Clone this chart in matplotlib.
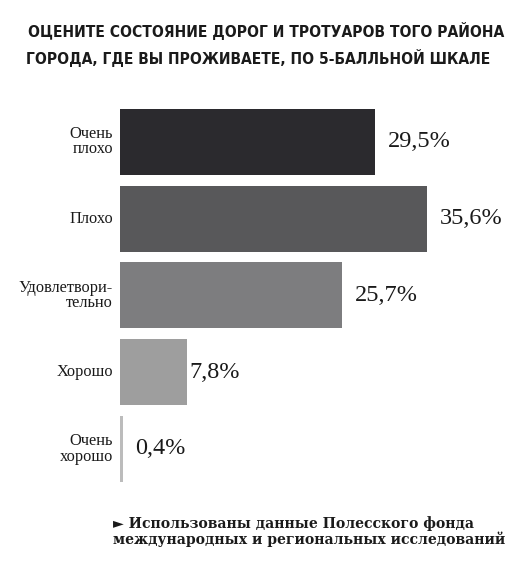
import matplotlib
matplotlib.use('Agg')
import matplotlib.pyplot as plt
from matplotlib import font_manager

#%% data
categories = ['Очень\nплохо', 'Плохо', 'Удовлетвори-\nтельно', 'Хорошо', 'Очень\nхорошо']
values = [29.5, 35.6, 25.7, 7.8, 0.4]
value_labels = ['29,5%', '35,6%', '25,7%', '7,8%', '0,4%']
title_lines = ['ОЦЕНИТЕ СОСТОЯНИЕ ДОРОГ И ТРОТУАРОВ ТОГО РАЙОНА',
               'ГОРОДА, ГДЕ ВЫ ПРОЖИВАЕТЕ, ПО 5-БАЛЛЬНОЙ ШКАЛЕ']
note_lines = ['► Использованы данные Полесского фонда',
              'международных и региональных исследований']

#%% style
bar_colors = ['#2b2a2e', '#58585a', '#7d7d7f', '#9e9e9e', '#bcbcbc']
label_pad = [13, 13, 13, 2, 12]   # px between bar end and value label

# look for any condensed / narrow face for the title
title_font, title_stretch = 'DejaVu Sans', 'normal'
narrow = [f for f in font_manager.fontManager.ttflist
          if ('Condensed' in f.name or 'Narrow' in f.name
              or f.stretch in ('condensed', 'semi-condensed', 'extra-condensed', 'ultra-condensed'))]
narrow_bold = [f for f in narrow if f.weight in ('bold', 700, 'semibold', 600)]
pick = (narrow_bold or narrow or [None])[0]
if pick is not None:
    title_font, title_stretch = pick.name, pick.stretch

W, H = 523, 567
fig = plt.figure(figsize=(W / 100, H / 100), dpi=100)
fig.patch.set_facecolor('white')

ax = fig.add_axes([119.5 / W, 1 - 487.2 / H, 389 / W, 383.8 / H])
pos = list(range(len(values)))
ax.barh(pos, values, height=0.86, color=bar_colors)
ax.set_xlim(0, 45)
ax.set_ylim(len(values) - 0.5, -0.5)
ax.axis('off')

for i, (v, lab) in enumerate(zip(values, value_labels)):
    ax.annotate(lab, (v, i), xytext=(label_pad[i] * 72 / 100, 0), textcoords='offset points',
                ha='left', va='center', fontsize=17.5, family='Liberation Serif', color='#1a1a1a')
    ax.annotate(categories[i], (0, i), xytext=(-6.5 * 72 / 100, 0), textcoords='offset points',
                ha='right', va='center', fontsize=11.8, family='Liberation Serif',
                color='#1a1a1a', linespacing=0.95, multialignment='right')

# title, sized so line 1 spans x 28..505 like the reference
t1 = fig.text(28 / W, 1 - 37.5 / H, title_lines[0], ha='left', va='baseline', fontsize=15,
              family=title_font, stretch=title_stretch, weight='bold', color='#1a1a1a')
t2 = fig.text(26 / W, 1 - 64 / H, title_lines[1], ha='left', va='baseline', fontsize=15,
              family=title_font, stretch=title_stretch, weight='bold', color='#1a1a1a')
r = fig.canvas.get_renderer()
w1 = t1.get_window_extent(r).width
fs = 15 * 477 / w1
t1.set_fontsize(fs)
t2.set_fontsize(fs)

# note
for k, yb in enumerate([528.3, 543.7]):
    fig.text(113 / W, 1 - yb / H, note_lines[k], ha='left', va='baseline', fontsize=10.1,
             family=['DejaVu Serif', 'DejaVu Sans'], weight='bold', color='#1a1a1a')

fig.savefig('out.png', dpi=100, facecolor='white')
